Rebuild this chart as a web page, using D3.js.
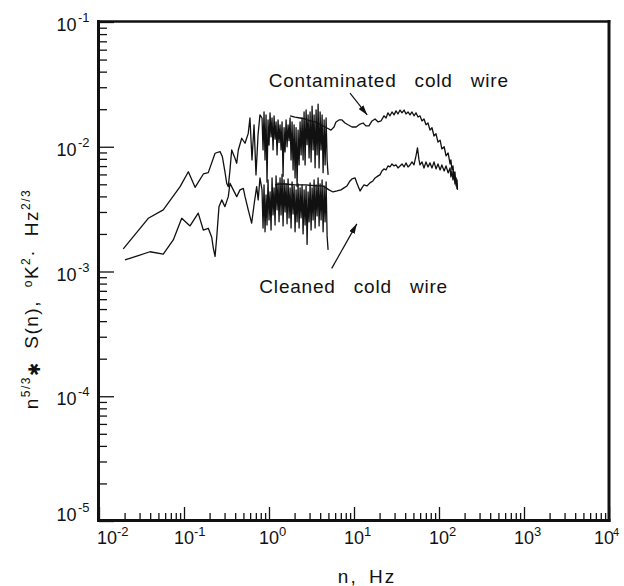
<!DOCTYPE html>
<html>
<head>
<meta charset="utf-8">
<script src="https://cdn.jsdelivr.net/npm/d3@7"></script>
<style>
  body { margin: 0; background: #fff; }
  text { font-family: "Liberation Sans", Arial, sans-serif; fill: #111; }
</style>
</head>
<body>
<script>
var w = 624;
var h = 586;

// decades used for the labelled ticks
var xDecades = [1e-2, 1e-1, 1e0, 1e1, 1e2, 1e3, 1e4];
var xExponents = ["-2", "-1", "0", "1", "2", "3", "4"];
var yDecades = [1e-5, 1e-4, 1e-3, 1e-2, 1e-1];
var yExponents = ["-5", "-4", "-3", "-2", "-1"];

// contaminated wire, low-frequency record (lead-in before the dense band)
var contamLowN = [0.0193, 0.038, 0.057, 0.090, 0.1125, 0.135, 0.169, 0.193, 0.232, 0.2655,
  0.2825, 0.303, 0.318, 0.332, 0.3475, 0.364, 0.398, 0.417, 0.4355, 0.4775,
  0.5225, 0.570, 0.597, 0.631, 0.667, 0.703, 0.743, 0.783];
var contamLowV = [0.00152, 0.00267, 0.00312, 0.00479, 0.00631, 0.00473, 0.00605, 0.0062, 0.00887, 0.00914,
  0.00834, 0.00631, 0.0051, 0.00479, 0.00652, 0.00942, 0.00809, 0.00738, 0.00942, 0.0117,
  0.01067, 0.0128, 0.0170, 0.00784, 0.0150, 0.00595, 0.01244, 0.0180];

// cleaned wire, low-frequency record (lead-in)
var cleanLowN = [0.0202, 0.0278, 0.0398, 0.057, 0.0748, 0.094, 0.1178, 0.147, 0.1687, 0.193,
  0.212, 0.2213, 0.232, 0.2427, 0.258, 0.278, 0.303, 0.332, 0.3475, 0.380,
  0.417, 0.456, 0.499, 0.5225, 0.570, 0.625, 0.6715, 0.716, 0.746, 0.783];
var cleanLowV = [0.00124, 0.00133, 0.00144, 0.00138, 0.00179, 0.00267, 0.00232, 0.00294, 0.00215, 0.00222,
  0.00188, 0.00154, 0.00132, 0.00188, 0.00331, 0.00375, 0.00331, 0.00398, 0.0051, 0.00451,
  0.00398, 0.00451, 0.00463, 0.00398, 0.00312, 0.00244, 0.00354, 0.00479, 0.00375, 0.00562];

// frequencies of the dense, noisy part of both low-frequency records (0.8 - 5 Hz)
var bandN = [0.828, 0.851, 0.874, 0.898, 0.923, 0.948, 0.974, 1.001, 1.029, 1.057,
  1.086, 1.116, 1.147, 1.178, 1.211, 1.244, 1.278, 1.313, 1.349, 1.386,
  1.424, 1.464, 1.504, 1.545, 1.588, 1.631, 1.676, 1.722, 1.770, 1.818,
  1.868, 1.920, 1.973, 2.027, 2.082, 2.140, 2.198, 2.259, 2.321, 2.385,
  2.450, 2.518, 2.587, 2.658, 2.731, 2.806, 2.883, 2.962, 3.044, 3.127,
  3.213, 3.302, 3.392, 3.486, 3.581, 3.680, 3.781, 3.885, 3.992, 4.101,
  4.214, 4.330, 4.449, 4.571, 4.697, 4.826, 4.958];
var contamBandV = [0.0170, 0.00943, 0.0190, 0.00784, 0.0180, 0.0052, 0.0164, 0.0103, 0.0187, 0.0120,
  0.0170, 0.00943, 0.0177, 0.0115, 0.0158, 0.00860, 0.0164, 0.0108, 0.0150, 0.00943,
  0.0158, 0.0058, 0.0142, 0.00909, 0.0164, 0.0100, 0.0150, 0.0112, 0.0170, 0.00784,
  0.0158, 0.00652, 0.0150, 0.00562, 0.0142, 0.0048, 0.0136, 0.00715, 0.0158, 0.00860,
  0.0170, 0.00784, 0.0190, 0.00715, 0.0197, 0.0104, 0.0180, 0.00814, 0.0190, 0.00756,
  0.0212, 0.00943, 0.0180, 0.0068, 0.0197, 0.00860, 0.0220, 0.00676, 0.0190, 0.00943,
  0.0180, 0.0062, 0.0164, 0.00715, 0.0170, 0.00784, 0.00595];
var cleanBandV = [0.00451, 0.00223, 0.00494, 0.00208, 0.00411, 0.00236, 0.00542, 0.00259, 0.00434, 0.00215,
  0.00562, 0.00284, 0.00468, 0.00236, 0.00584, 0.00312, 0.00513, 0.00250, 0.00562, 0.00284,
  0.00600, 0.00232, 0.00542, 0.00300, 0.00503, 0.00241, 0.00552, 0.00269, 0.00468, 0.00223,
  0.00522, 0.00289, 0.00485, 0.00208, 0.00451, 0.00250, 0.00503, 0.00223, 0.00468, 0.00269,
  0.00494, 0.00200, 0.00451, 0.00236, 0.00485, 0.00165, 0.00434, 0.00250, 0.00513, 0.00215,
  0.00468, 0.00259, 0.00542, 0.00223, 0.00494, 0.00279, 0.00562, 0.00232, 0.00503, 0.00259,
  0.00542, 0.00208, 0.00485, 0.00250, 0.00522, 0.00193, 0.00149];

// high-frequency records
var contamHighN = [1.77, 2.02, 2.32, 2.65, 3.03, 3.48, 3.98, 4.56, 4.94, 5.36,
  5.82, 6.14, 6.66, 7.22, 7.84, 8.50, 9.47, 10.6, 11.8, 12.8,
  13.8, 15.0, 16.3, 17.7, 19.2, 20.8, 22.5, 23.8, 25.1, 26.5,
  28.0, 29.6, 31.2, 32.9, 34.8, 36.7, 38.8, 40.9, 43.2, 45.6,
  48.1, 50.8, 53.6, 56.6, 59.7, 63.1, 66.6, 70.3, 74.2, 78.4,
  82.7, 87.4, 92.2, 97.3, 103, 108, 115, 121, 128, 135,
  138, 142, 146, 150, 154, 159, 163, 165];
var contamHighV = [0.0177, 0.0173, 0.0170, 0.0167, 0.0161, 0.0158, 0.0152, 0.0144, 0.0140, 0.0136,
  0.0144, 0.0158, 0.0164, 0.0164, 0.0155, 0.0150, 0.0144, 0.0144, 0.0152, 0.0155,
  0.0147, 0.0147, 0.0161, 0.0167, 0.0158, 0.0161, 0.0177, 0.0170, 0.0187, 0.0177,
  0.0190, 0.0180, 0.0194, 0.0183, 0.0197, 0.0187, 0.0197, 0.0183, 0.0190, 0.0180,
  0.0190, 0.0177, 0.0187, 0.0173, 0.0177, 0.0161, 0.0167, 0.0150, 0.0155, 0.0136,
  0.0142, 0.0122, 0.0127, 0.0109, 0.0113, 0.0096, 0.0100, 0.00844, 0.00892, 0.00728,
  0.00784, 0.00652, 0.00702, 0.00562, 0.00628, 0.00485, 0.00542, 0.00451];

var cleanHighN = [1.18, 1.35, 1.54, 1.77, 2.02, 2.32, 2.72, 3.20, 3.77, 4.32,
  4.69, 5.08, 5.66, 6.31, 7.03, 7.62, 8.27, 8.98, 9.47, 10.3,
  10.8, 11.8, 12.4, 13.1, 14.2, 15.4, 16.7, 17.7, 19.2, 20.2,
  21.3, 22.5, 23.8, 25.1, 26.5, 28.0, 29.6, 31.2, 32.9, 34.8,
  36.7, 38.8, 40.9, 43.2, 45.6, 48.1, 50.8, 53.6, 55.8, 58.2,
  59.7, 63.1, 66.6, 70.3, 74.2, 78.4, 82.7, 87.4, 92.2, 97.3,
  103, 108, 115, 121, 128, 135, 138, 142, 146, 150,
  154, 159, 163];
var cleanHighV = [0.00494, 0.00503, 0.00503, 0.00498, 0.00494, 0.00494, 0.00494, 0.00489, 0.00485, 0.00485,
  0.00468, 0.00451, 0.00434, 0.00442, 0.00451, 0.00468, 0.00485, 0.00532, 0.00552, 0.00562,
  0.00513, 0.00442, 0.00468, 0.00494, 0.00485, 0.00513, 0.00532, 0.00562, 0.00584, 0.00595,
  0.00640, 0.00664, 0.00652, 0.00702, 0.00689, 0.00728, 0.00702, 0.00715, 0.00676, 0.00702,
  0.00728, 0.00689, 0.00742, 0.00689, 0.00715, 0.00756, 0.00715, 0.00844, 0.00978, 0.00784,
  0.00715, 0.00756, 0.00676, 0.00756, 0.00689, 0.00742, 0.00676, 0.00756, 0.00664, 0.00728,
  0.00652, 0.00715, 0.00640, 0.00702, 0.00617, 0.00676, 0.00573, 0.00640, 0.00542, 0.00606,
  0.00503, 0.00562, 0.00459];

// annotation anchors in data units: [text n, text v, arrow tail n, v, arrow head n, v]
var labelNames = ["Contaminated cold wire", "Cleaned cold wire"];
var labelSpots = [
  [0.99, 0.0303, 8.98, 0.0269, 14.3, 0.0180],
  [0.77, 0.000675, 5.47, 0.00106, 10.8, 0.00241]
];

function zip(ns, vs) {
  return ns.map(function(n, i) { return [n, vs[i]]; });
}

var series = [
  zip(contamLowN.concat(bandN), contamLowV.concat(contamBandV)),
  zip(cleanLowN.concat(bandN), cleanLowV.concat(cleanBandV)),
  zip(contamHighN, contamHighV),
  zip(cleanHighN, cleanHighV)
];

// scales
var xScale = d3.scaleLog().domain([1e-2, 1e4]).range([99, 609]);
var yScale = d3.scaleLog().domain([1e-5, 1e-1]).range([521, 22]);

var svg = d3.select("body")
    .append("svg")
    .attr("width", w)
    .attr("height", h);

svg.append("rect").attr("width", w).attr("height", h).attr("fill", "#fff");

// inward ticks: minor (2..9) short, decades long
var isDecade = function(d) { return Math.abs(Math.log10(d) - Math.round(Math.log10(d))) < 1e-6; };
var xMinor = xScale.ticks().filter(function(d) { return !isDecade(d); });
var yMinor = yScale.ticks().filter(function(d) { return !isDecade(d); });

function styleAxis(g) {
  g.select(".domain").remove();
  g.selectAll("line").attr("stroke", "#111").attr("stroke-width", 1.3);
}

svg.append("g").attr("transform", "translate(0,521)")
    .call(d3.axisBottom(xScale).tickValues(xMinor).tickSize(-8).tickFormat(""))
    .call(styleAxis);
svg.append("g").attr("transform", "translate(0,521)")
    .call(d3.axisBottom(xScale).tickValues(xDecades).tickSize(-14).tickFormat(""))
    .call(styleAxis);
svg.append("g").attr("transform", "translate(99,0)")
    .call(d3.axisLeft(yScale).tickValues(yMinor).tickSize(-8).tickFormat(""))
    .call(styleAxis);
svg.append("g").attr("transform", "translate(99,0)")
    .call(d3.axisLeft(yScale).tickValues(yDecades).tickSize(-15).tickFormat(""))
    .call(styleAxis);

// frame
var frame = svg.append("g").attr("stroke", "#111").attr("stroke-linecap", "square");
frame.append("line").attr("x1", 98.5).attr("x2", 98.5).attr("y1", 21.5).attr("y2", 520.5).attr("stroke-width", 3);
frame.append("line").attr("x1", 98.5).attr("x2", 609).attr("y1", 520.5).attr("y2", 520.5).attr("stroke-width", 3);
frame.append("line").attr("x1", 609).attr("x2", 609).attr("y1", 21.5).attr("y2", 520.5).attr("stroke-width", 3);
frame.append("line").attr("x1", 98.5).attr("x2", 609).attr("y1", 21.5).attr("y2", 21.5).attr("stroke-width", 2.5);

// tick labels (10 with superscript exponent)
xDecades.forEach(function(d, i) {
  var last = i === xDecades.length - 1;
  var cx = xScale(d) + (i === 0 ? 8 : 0) + (last ? -5 : 0);
  svg.append("text").attr("x", cx).attr("y", 543.5)
      .attr("text-anchor", "middle").attr("font-size", 18).text("10");
  svg.append("text").attr("x", cx + (last ? 9 : 10)).attr("y", 535.5)
      .attr("font-size", last ? 11 : 13).text(xExponents[i]);
});
yDecades.forEach(function(d, i) {
  var cy = yScale(d) + (i === 0 ? -9 : 0);
  svg.append("text").attr("x", 76.5).attr("y", cy + 9)
      .attr("text-anchor", "end").attr("font-size", 18).text("10");
  svg.append("text").attr("x", 78).attr("y", cy)
      .attr("font-size", 13).text(yExponents[i]);
});

// axis titles
svg.append("text")
    .attr("x", 367).attr("y", 583)
    .attr("text-anchor", "middle")
    .attr("font-size", 19)
    .attr("letter-spacing", 2)
    .attr("word-spacing", 4)
    .text("n, Hz");

var yt = svg.append("text")
    .attr("transform", "translate(38,299) rotate(-90)")
    .attr("text-anchor", "middle")
    .attr("font-size", 19)
    .attr("letter-spacing", 1.5)
    .attr("word-spacing", 6);
yt.append("tspan").text("n");
yt.append("tspan").attr("dy", -8).attr("font-size", 12).text("5/3");
yt.append("tspan").attr("dy", 10).attr("font-size", 16).text("\u2731");
yt.append("tspan").attr("dy", -2).text(" S(n), ");
yt.append("tspan").attr("dy", -6).attr("font-size", 12).text("o");
yt.append("tspan").attr("dy", 6).text("K");
yt.append("tspan").attr("dy", -8).attr("font-size", 12).text("2");
yt.append("tspan").attr("dy", 8).text("\u00b7 Hz");
yt.append("tspan").attr("dy", -8).attr("font-size", 12).text("2/3");

// spectra
var line = d3.line()
    .x(function(d) { return xScale(d[0]); })
    .y(function(d) { return yScale(d[1]); });

svg.selectAll("path.spec")
    .data(series)
    .enter()
    .append("path")
    .attr("class", "spec")
    .attr("d", line)
    .attr("fill", "none")
    .attr("stroke", "#111")
    .attr("stroke-width", 1.3)
    .attr("stroke-linejoin", "round");

// annotations with arrows
svg.append("defs").append("marker")
    .attr("id", "head")
    .attr("viewBox", "0 0 10 6")
    .attr("refX", 10).attr("refY", 3)
    .attr("markerWidth", 10).attr("markerHeight", 6)
    .attr("markerUnits", "userSpaceOnUse")
    .attr("orient", "auto")
    .append("path").attr("d", "M0,0 L10,3 L0,6 Z").attr("fill", "#111");

labelSpots.forEach(function(s, i) {
  svg.append("text")
      .attr("x", xScale(s[0])).attr("y", yScale(s[1]))
      .attr("font-size", 19)
      .attr("letter-spacing", 0.8)
      .attr("word-spacing", 12)
      .text(labelNames[i]);
  svg.append("line")
      .attr("x1", xScale(s[2])).attr("y1", yScale(s[3]))
      .attr("x2", xScale(s[4])).attr("y2", yScale(s[5]))
      .attr("stroke", "#111").attr("stroke-width", 1.2)
      .attr("marker-end", "url(#head)");
});
</script>
</body>
</html>
